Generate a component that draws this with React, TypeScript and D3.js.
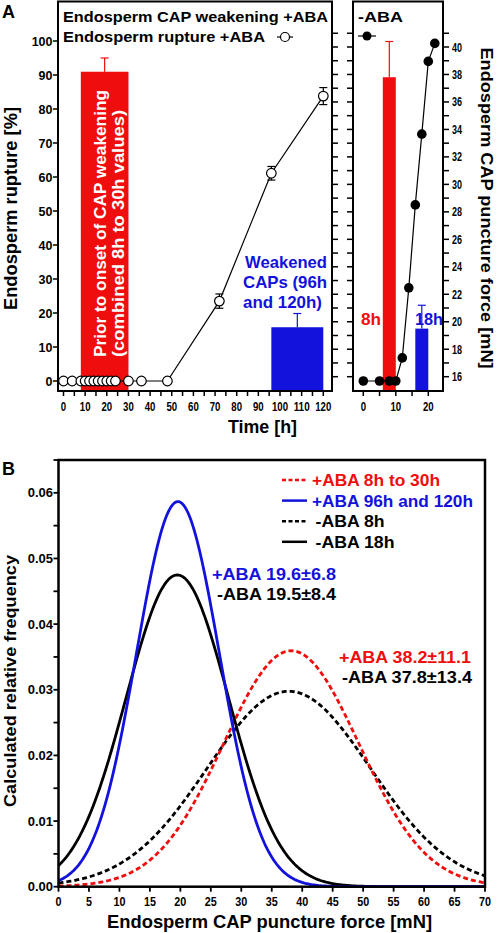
import React from 'react';
import * as d3 from 'd3';

// ---------- data ----------
const ruptureTimesABA = [0, 4, 8, 10, 12, 14, 16, 18, 20, 22, 24, 30, 36, 48, 72, 96, 120];
const ruptureABA = [0, 0, 0, 0, 0, 0, 0, 0, 0, 0, 0, 0, 0, 0, 23.5, 61.1, 83.8];
const ruptureErrABA = [0, 0, 0, 0, 0, 0, 0, 0, 0, 0, 0, 0, 0, 0, 2.1, 2.0, 2.5];

const ruptureTimesNoABA = [0, 5, 8, 10, 12, 14, 16, 18, 20, 22];
const ruptureNoABA = [0, 0, 0, 0, 6.8, 27.4, 51.8, 72.6, 94.0, 99.3];

const capBarStartABA = [8, 96];
const capBarEndABA = [30, 120];
const capForceABA = [38.2, 19.6];
const capErrABA = [1.0, 1.0];

const capBarStartNoABA = [6, 16];
const capBarEndNoABA = [10, 20];
const capForceNoABA = [37.8, 19.5];
const capErrNoABA = [2.6, 1.7];
const capBarLabelsNoABA = ['8h', '18h'];

const distLabels = ['+ABA 8h to 30h', '+ABA 96h and 120h', '-ABA 8h', '-ABA 18h'];
const distMeans = [38.2, 19.6, 37.8, 19.5];
const distSDs = [11.1, 6.8, 13.4, 8.4];

const pctTicks = [0, 10, 20, 30, 40, 50, 60, 70, 80, 90, 100];
const timeTicksLeft = d3.range(0, 121, 5);
const timeLabelsLeft = d3.range(0, 121, 10);
const timeTicksRight = [0, 5, 10, 15, 20];
const timeLabelsRight = [0, 10, 20];
const forceTicks = d3.range(16, 42, 1);
const forceLabels = d3.range(16, 41, 2);
const freqTicks = d3.range(0, 0.0651, 0.005);
const freqLabels = [0, 0.01, 0.02, 0.03, 0.04, 0.05, 0.06];
const forceTicksB = d3.range(0, 71, 5);

// ---------- style ----------
const RED = '#f00d0d';
const BLUE = '#1212dc';
const FONT = '"Liberation Sans", Arial, sans-serif';

function T(props: {
  x?: number; y?: number; len?: number; fs: number; anchor?: string; fill?: string;
  transform?: string; children: React.ReactNode;
}) {
  const { x = 0, y = 0, len, fs, anchor = 'start', fill = '#000', transform, children } = props;
  return (
    <text x={x} y={y} transform={transform} fontFamily={FONT} fontWeight="bold" fontSize={fs}
      textAnchor={anchor} fill={fill}
      {...(len ? { textLength: len, lengthAdjust: 'spacingAndGlyphs' } : {})}>
      {children}
    </text>
  );
}

// approximate bold digit width in em
const numW = (s: string) => s.split('').reduce((a, c) => a + (c === '.' ? 0.278 : 0.556), 0);

export default function App() {
  // Panel A layout
  const aTop = 1.5, aBot = 391;
  const lL = 58, lR = 332;
  const rL = 353, rR = 443;
  const xL = d3.scaleLinear().domain([0, 120]).range([63.5, 323.3]);
  const xR = d3.scaleLinear().domain([0, 20]).range([363.3, 428.3]);
  const yPct = d3.scaleLinear().domain([0, 100]).range([381, 41]);
  const yForce = d3.scaleLinear().domain([16, 40]).range([376.7, 47]);

  // Panel B layout
  const bL = 58.5, bR = 485, bT = 460, bB = 886.7;
  const xB = d3.scaleLinear().domain([0, 70]).range([bL, bR]);
  const yB = d3.scaleLinear().domain([0, 0.065]).range([bB, bT]);

  const pdf = (x: number, m: number, s: number) =>
    Math.exp(-0.5 * ((x - m) / s) ** 2) / (s * Math.sqrt(2 * Math.PI));
  const xs = d3.range(0, 70.001, 0.25);
  const curveLine = d3.line<number[]>().x(d => xB(d[0])).y(d => yB(d[1]));
  const distStyles = [
    { color: RED, dash: '5,3' },
    { color: BLUE, dash: null },
    { color: '#000', dash: '5,3' },
    { color: '#000', dash: null },
  ];
  const drawOrder = [2, 0, 3, 1];

  const lineL = d3.line<number>().x((_, i) => xL(ruptureTimesABA[i])).y(d => yPct(d));
  const lineR = d3.line<number>().x((_, i) => xR(ruptureTimesNoABA[i])).y(d => yPct(d));

  return (
    <svg width={498} height={933} style={{ position: 'absolute', left: 0, top: 0, background: '#fff' }}>
      <rect x={0} y={0} width={498} height={933} fill="#fff" />
      {/* Panel letters */}
      <T x={2} y={18} fs={18}>A</T>
      <T x={2} y={475} fs={18}>B</T>

      {/* ===== Panel A left ===== */}
      {capForceABA.map((v, i) => {
        const c = i === 0 ? RED : BLUE;
        const cx = (xL(capBarStartABA[i]) + xL(capBarEndABA[i])) / 2;
        return (
          <g key={'bl' + i}>
            <line x1={cx} x2={cx} y1={yForce(v)} y2={yForce(v + capErrABA[i])} stroke={c} strokeWidth={1.2} />
            <line x1={cx - 4} x2={cx + 4} y1={yForce(v + capErrABA[i])} y2={yForce(v + capErrABA[i])} stroke={c} strokeWidth={1.2} />
            <rect x={xL(capBarStartABA[i])} y={yForce(v)} width={xL(capBarEndABA[i]) - xL(capBarStartABA[i])}
              height={aBot - yForce(v)} fill={c} />
          </g>
        );
      })}
      <g transform={`translate(${(xL(8) + xL(30)) / 2},0) rotate(-90)`}>
        <T x={-223.5} y={1.5} fs={17} len={267} anchor="middle" fill="#fff">Prior to onset of CAP weakening</T>
        <T x={-233.5} y={19.5} fs={17} len={247} anchor="middle" fill="#fff">(combined 8h to 30h values)</T>
      </g>
      <T x={286} y={268} fs={17} len={82} anchor="middle" fill={BLUE}>Weakened</T>
      <T x={285} y={288} fs={17} len={84} anchor="middle" fill={BLUE}>CAPs (96h</T>
      <T x={282.5} y={308} fs={17} len={79} anchor="middle" fill={BLUE}>and 120h)</T>

      <path d={lineL(ruptureABA) || ''} fill="none" stroke="#000" strokeWidth={1.2} />
      {ruptureABA.map((v, i) => ruptureErrABA[i] > 0 ? (
        <g key={'e' + i} stroke="#000" strokeWidth={1.2}>
          <line x1={xL(ruptureTimesABA[i])} x2={xL(ruptureTimesABA[i])} y1={yPct(v - ruptureErrABA[i])} y2={yPct(v + ruptureErrABA[i])} />
          <line x1={xL(ruptureTimesABA[i]) - 4} x2={xL(ruptureTimesABA[i]) + 4} y1={yPct(v - ruptureErrABA[i])} y2={yPct(v - ruptureErrABA[i])} />
          <line x1={xL(ruptureTimesABA[i]) - 4} x2={xL(ruptureTimesABA[i]) + 4} y1={yPct(v + ruptureErrABA[i])} y2={yPct(v + ruptureErrABA[i])} />
        </g>
      ) : null)}
      {ruptureABA.map((v, i) => (
        <circle key={'c' + i} cx={xL(ruptureTimesABA[i])} cy={yPct(v)} r={4.8} fill="#fff" stroke="#000" strokeWidth={1.2} />
      ))}
      <rect x={lL} y={aTop} width={lR - lL} height={aBot - aTop} fill="none" stroke="#000" strokeWidth={2} />
      {pctTicks.map(t => (
        <g key={'py' + t}>
          <line x1={lL - 5} x2={lL} y1={yPct(t)} y2={yPct(t)} stroke="#000" strokeWidth={1.5} />
          <T x={lL - 5.5} y={yPct(t) + 4.5} fs={12.5} anchor="end">{t}</T>
        </g>
      ))}
      {timeTicksLeft.map(t => (
        <line key={'tx' + t} x1={xL(t)} x2={xL(t)} y1={aBot} y2={aBot + 5} stroke="#000" strokeWidth={1.5} />
      ))}
      {timeLabelsLeft.map(t => (
        <T key={'tl' + t} x={xL(t)} y={411} fs={13} anchor="middle" len={numW(String(t)) * 13 * 0.74}>{t}</T>
      ))}
      {forceTicks.map(t => (
        <line key={'fl' + t} x1={lR} x2={lR + 6} y1={yForce(t)} y2={yForce(t)} stroke="#000" strokeWidth={1.5} />
      ))}
      <T x={63} y={22} fs={15.5} len={265}>Endosperm CAP weakening +ABA</T>
      <T x={63} y={42} fs={15.5} len={202}>Endosperm rupture +ABA</T>
      <line x1={277} x2={293} y1={37} y2={37} stroke="#000" strokeWidth={1.2} />
      <circle cx={285} cy={37} r={4.5} fill="#fff" stroke="#000" strokeWidth={1.2} />

      {/* ===== Panel A right ===== */}
      {capForceNoABA.map((v, i) => {
        const c = i === 0 ? RED : BLUE;
        const cx = (xR(capBarStartNoABA[i]) + xR(capBarEndNoABA[i])) / 2;
        return (
          <g key={'br' + i}>
            <line x1={cx} x2={cx} y1={yForce(v)} y2={yForce(v + capErrNoABA[i])} stroke={c} strokeWidth={1.2} />
            <line x1={cx - 4} x2={cx + 4} y1={yForce(v + capErrNoABA[i])} y2={yForce(v + capErrNoABA[i])} stroke={c} strokeWidth={1.2} />
            <rect x={xR(capBarStartNoABA[i])} y={yForce(v)} width={xR(capBarEndNoABA[i]) - xR(capBarStartNoABA[i])}
              height={aBot - yForce(v)} fill={c} />
          </g>
        );
      })}
      <T x={361} y={325} fs={17} len={20} fill={RED}>{capBarLabelsNoABA[0]}</T>
      <T x={415} y={325} fs={17} len={28} fill={BLUE}>{capBarLabelsNoABA[1]}</T>
      <path d={lineR(ruptureNoABA) || ''} fill="none" stroke="#000" strokeWidth={1.2} />
      {ruptureNoABA.map((v, i) => (
        <circle key={'f' + i} cx={xR(ruptureTimesNoABA[i])} cy={yPct(v)} r={4.8} fill="#000" />
      ))}
      <rect x={rL} y={aTop} width={rR - rL} height={aBot - aTop} fill="none" stroke="#000" strokeWidth={2} />
      {forceTicks.map(t => (
        <g key={'fr' + t}>
          <line x1={rL - 6} x2={rL} y1={yForce(t)} y2={yForce(t)} stroke="#000" strokeWidth={1.5} />
          <line x1={rR} x2={rR + 6} y1={yForce(t)} y2={yForce(t)} stroke="#000" strokeWidth={1.5} />
        </g>
      ))}
      {forceLabels.map(t => (
        <T key={'frl' + t} x={rR + 9} y={yForce(t) + 4.5} fs={12.5} len={numW(String(t)) * 12.5 * 0.72}>{t}</T>
      ))}
      {timeTicksRight.map(t => (
        <line key={'rt' + t} x1={xR(t)} x2={xR(t)} y1={aBot} y2={aBot + 5} stroke="#000" strokeWidth={1.5} />
      ))}
      {timeLabelsRight.map(t => (
        <T key={'rtl' + t} x={xR(t)} y={411} fs={13} anchor="middle" len={numW(String(t)) * 13 * 0.74}>{t}</T>
      ))}
      <T x={358} y={22} fs={15.5} len={45}>-ABA</T>
      <line x1={358} x2={376} y1={36} y2={36} stroke="#000" strokeWidth={1.2} />
      <circle cx={367} cy={36} r={4.5} fill="#000" />

      {/* axis titles A */}
      <T transform="translate(17,208.5) rotate(-90)" fs={18} len={203} anchor="middle">Endosperm rupture [%]</T>
      <T transform="translate(481,208) rotate(90)" fs={16} len={321} anchor="middle">Endosperm CAP puncture force [mN]</T>
      <T x={262.5} y={433} fs={17.5} len={69} anchor="middle">Time [h]</T>

      {/* ===== Panel B ===== */}
      {drawOrder.map(i => (
        <path key={'d' + i} d={curveLine(xs.map(x => [x, pdf(x, distMeans[i], distSDs[i])])) || ''}
          fill="none" stroke={distStyles[i].color} strokeWidth={2.8}
          strokeDasharray={distStyles[i].dash || undefined} />
      ))}
      <rect x={bL} y={bT} width={bR - bL} height={bB - bT} fill="none" stroke="#000" strokeWidth={2.5} />
      {freqTicks.map(t => (
        <line key={'fy' + t} x1={bL - 5} x2={bL} y1={yB(t)} y2={yB(t)} stroke="#000" strokeWidth={1.8} />
      ))}
      {freqLabels.map(t => (
        <T key={'fyl' + t} x={bL - 5.5} y={yB(t) + 4.5} fs={13} anchor="end">{d3.format('.2f')(t)}</T>
      ))}
      {forceTicksB.map(t => (
        <g key={'bx' + t}>
          <line x1={xB(t)} x2={xB(t)} y1={bB} y2={bB + 5} stroke="#000" strokeWidth={1.8} />
          <T x={xB(t)} y={906} fs={13.5} anchor="middle" len={numW(String(t)) * 13.5 * 0.8}>{t}</T>
        </g>
      ))}
      {distLabels.map((l, i) => (
        <g key={'lg' + i}>
          <line x1={282} x2={307} y1={480 + i * 20.6} y2={480 + i * 20.6} stroke={distStyles[i].color} strokeWidth={2.5}
            strokeDasharray={distStyles[i].dash ? '4,2.5' : undefined} />
          <T x={l.startsWith('-') ? 315.5 : 312} y={486 + i * 20.6} fs={16.5}
            len={[128, 161, 69, 79][i]} fill={distStyles[i].color}>{l}</T>
        </g>
      ))}
      <T x={336} y={580} fs={16.5} len={124} anchor="end" fill={BLUE}>+ABA 19.6±6.8</T>
      <T x={336} y={600} fs={16.5} len={119} anchor="end">-ABA 19.5±8.4</T>
      <T x={471} y={663} fs={16.5} len={132} anchor="end" fill={RED}>+ABA 38.2±11.1</T>
      <T x={472} y={683} fs={16.5} len={130} anchor="end">-ABA 37.8±13.4</T>
      <T transform="translate(16,681) rotate(-90)" fs={17} len={252} anchor="middle">Calculated relative frequency</T>
      <T x={269.5} y={928} fs={18.5} len={325} anchor="middle">Endosperm CAP puncture force [mN]</T>
    </svg>
  );
}
